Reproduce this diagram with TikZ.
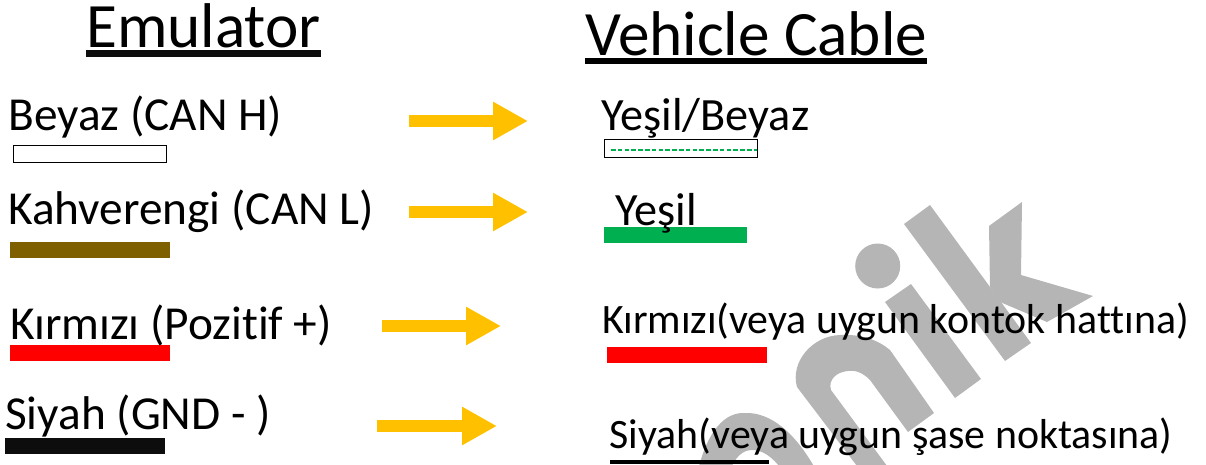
\documentclass[tikz,border=0pt]{standalone}
\usepackage{fontspec}
\setmainfont{Carlito}[Ligatures=NoCommon]
\usetikzlibrary{arrows.meta}
\definecolor{wm}{HTML}{B5B5B5}
\definecolor{gold}{HTML}{FFC000}
\definecolor{grn}{HTML}{00B050}
\definecolor{brn}{HTML}{7F6000}
\definecolor{blk}{HTML}{0D0D0D}
\tikzset{
  title/.style={anchor=base west,inner sep=0pt,font=\fontsize{47.4}{50}\selectfont},
  lab/.style={anchor=base west,inner sep=0pt,font=\fontsize{35.5}{38}\selectfont},
  labr/.style={anchor=base west,inner sep=0pt,font=\fontsize{34.7}{38}\selectfont},
  labs/.style={anchor=base west,inner sep=0pt,font=\fontsize{31.4}{34}\selectfont},
  flow/.style={gold,line width=9pt,-{Triangle[length=26.25pt,width=27pt]}},
  wmark/.style={fill=wm,draw=none}
}
\begin{document}
\begin{tikzpicture}[x=0.75pt,y=-0.75pt]
\useasboundingbox (0,0) rectangle (1206,464);
\begin{scope}
\clip (0,0) rectangle (1206,464);
% watermark
\fill[wmark] (904,224) -- (930,205) -- (1031,343) -- (1005,361) -- cycle;
\fill[wmark] (989,226) -- (1022,202) -- (1021,275) -- (1093,296) -- (1047,322) -- (1000,302) -- (990,287) -- cycle;
\fill[wmark] (885,302) -- (911,284) -- (981,379) -- (955,398) -- cycle;
\fill[wmark] (877.7,266) circle (22.5);
\fill[wmark] (860,470) -- (797,387) .. controls (790,362) and (812,336) .. (840,335) .. controls (862,334) and (878,340) .. (890,350) -- (934,413) -- (908,432) -- (870,380) .. controls (862,372) and (855,370) .. (848,371) .. controls (836,372) and (828,380) .. (831,390) -- (890,470) -- cycle;
\fill[wmark] (698,470) .. controls (708,430) and (725,412) .. (745,413) .. controls (770,412) and (795,432) .. (816,470) -- (782,470) .. controls (772,456) and (762,450) .. (752,450) .. controls (742,450) and (735,458) .. (730,470) -- cycle;
\end{scope}
% bars behind text
\fill[blk] (86,50) rectangle (321,56.5);
\fill[black] (585,58) rectangle (927,64);
\fill[brn] (10,242) rectangle (170,258);
\fill[red] (10,345) rectangle (170,361);
\fill[blk] (5,438) rectangle (165,454);
\fill[grn] (604,227) rectangle (747,243);
\fill[red] (607,347) rectangle (767,362.5);
\fill[black] (610,460) rectangle (769,464);
% texts
\node[title] (emu) at (86,47) {Emulator};
\node[title] (veh) at (585,55.5) {Vehicle Cable};
\node[lab] (l1) at (8,130.5) {Beyaz (CAN H)};
\node[lab] (l2) at (8,224.5) {Kahverengi (CAN L)};
\node[lab] (l3) at (10,339) {Kırmızı (Pozitif +)};
\node[lab] (l4) at (5,429) {Siyah (GND - )};
\node[labr] (r1) at (601,130.5) {Yeşil/Beyaz};
\node[labr] (r2) at (615,225) {Yeşil};
\node[labs] (r3) at (602,333.5) {Kırmızı(veya uygun kontok hattına)};
\node[labs] (r4) at (609.5,448) {Siyah(veya uygun şase noktasına)};
% boxes
\draw[black,fill=white,line width=0.75pt] (13.5,145) rectangle (166.5,162.5);
\draw[black,fill=white,line width=0.75pt] (604.5,139.5) rectangle (757.5,157);
\draw[grn,line width=1.1pt,dash pattern=on 3.5pt off 1.6pt] (611,150) -- (757,150);
% arrows
\coordinate (a1s) at (409,121); \coordinate (a1e) at (528,121);
\coordinate (a2s) at (409,212); \coordinate (a2e) at (528,212);
\coordinate (a3s) at (382,326); \coordinate (a3e) at (501,326);
\coordinate (a4s) at (377,426); \coordinate (a4e) at (497,426);
\draw[flow] (a1s) -- (a1e);
\draw[flow] (a2s) -- (a2e);
\draw[flow] (a3s) -- (a3e);
\draw[flow] (a4s) -- (a4e);
\end{tikzpicture}
\end{document}
